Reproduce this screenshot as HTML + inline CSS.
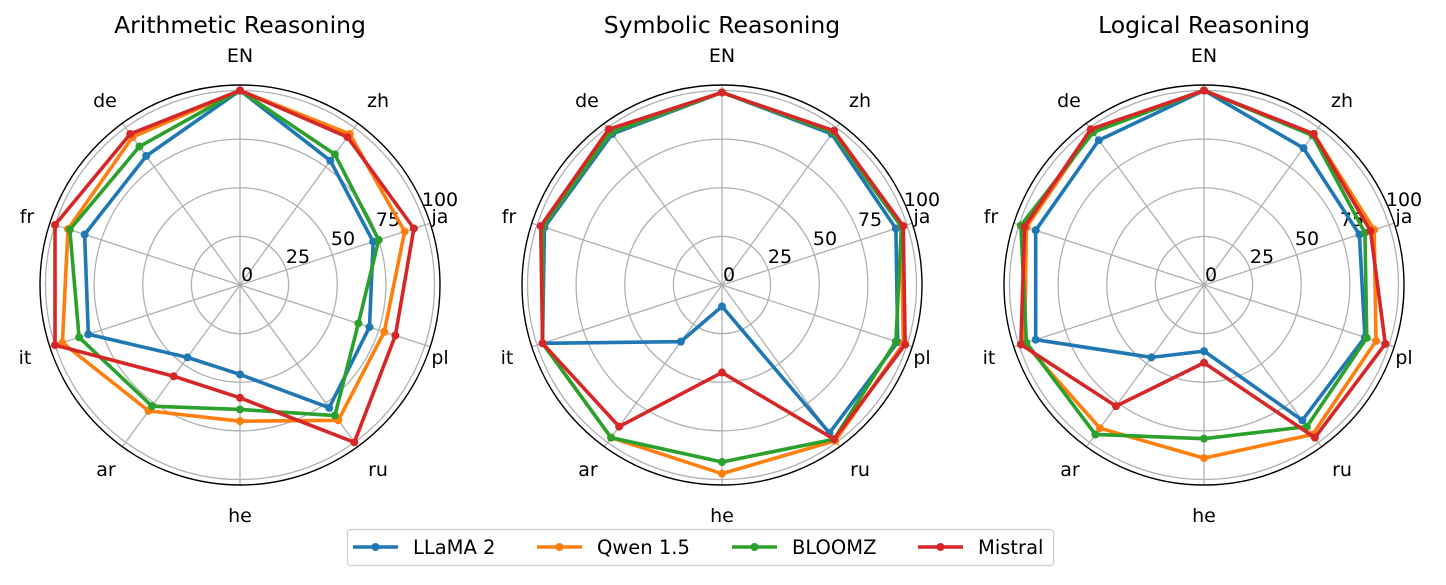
<!DOCTYPE html>
<html><head><meta charset="utf-8"><style>
body{margin:0;background:#fff;}
svg text{font-family:"DejaVu Sans","Liberation Sans",sans-serif;fill:#000;}
</style></head><body>
<svg id="chart" width="1446" height="580" viewBox="0 0 1446 580" xmlns="http://www.w3.org/2000/svg"></svg>
<script>
const categories = ["EN","zh","ja","pl","ru","he","ar","it","fr","de"];
const seriesNames = ["LLaMA 2","Qwen 1.5","BLOOMZ","Mistral"];
const tickValues = [0,25,50,75,100];
const tickLabels = ["0","25","50","75","100"];
const panelTitles = ["Arithmetic Reasoning","Symbolic Reasoning","Logical Reasoning"];
// Arithmetic
const arithLlama   = [100,79,72,70,78,46,46,82,84,82];
const arithQwen    = [100,96,89,78,86,70,80,96,93,94];
const arithBloomz  = [100,83,75,64,83,64,77,87,92,88];
const arithMistral = [100,94,94,84,100,58,58,100,100,96];
// Symbolic
const symLlama   = [99,96,94,95,94,11,36,97,96,96];
const symQwen    = [99,97,97,98,99,97,97,97,97,97];
const symBloomz  = [99,97,97,94,98,91,97,97,97,97];
const symMistral = [99,98,98,99,98,45,90,97,98,99];
// Logical
const logLlama   = [100,87,84,87,86,34,46,91,91,92];
const logQwen    = [100,96,92,93,95,89,91,97,96,98];
const logBloomz  = [100,95,87,88,90,79,95,96,99,97];
const logMistral = [100,96,90,98,97,40,77,99,97,99];

const panelData = [
  [arithLlama,arithQwen,arithBloomz,arithMistral],
  [symLlama,symQwen,symBloomz,symMistral],
  [logLlama,logQwen,logBloomz,logMistral]
];
const colors = ["#1f77b4","#ff7f0e","#2ca02c","#d62728"];
const centersX = [240,722,1204];
const CY = 285, SCALE = 1.945, RSPINE = 200;
const svg = document.getElementById('chart');
const NS = "http://www.w3.org/2000/svg";
function mk(tag, attrs, parent){
  const e = document.createElementNS(NS, tag);
  for (const k in attrs) e.setAttribute(k, attrs[k]);
  (parent||svg).appendChild(e); return e;
}
function ang(i){ return i*2*Math.PI/categories.length; }
function pt(cx, i, v){ const a=ang(i), r=v*SCALE; return [cx + r*Math.sin(a), CY - r*Math.cos(a)]; }
const labelOff = [[0,-230],[138,-185],[200,-69],[200,72],[138,184],[0,230],[-134,184],[-215,72],[-213,-69],[-135,-185]];
const tickOff = [[7,-11],[58,-29],[103,-47],[148,-66],[200,-86]];

panelTitles.forEach((title, p) => {
  const cx = centersX[p];
  const g = mk('g', {});
  
  
  const t = mk('text', {x:cx, y:33, 'font-size':23.5, 'text-anchor':'middle'}, g);
  t.textContent = title;
  
  
  tickValues.forEach(v => {
    if (v === 0) return;
    const c = mk('circle', {cx:cx, cy:CY, r:v*SCALE, fill:'none', stroke:'#b0b0b0', 'stroke-width':1.3}, g);
    
    
  });
  categories.forEach((c, i) => {
    const [x,y] = pt(cx, i, RSPINE/SCALE);
    const l = mk('line', {x1:cx, y1:CY, x2:x, y2:y, stroke:'#b0b0b0', 'stroke-width':1.3}, g);
    
    
    const lt = mk('text', {x:cx+labelOff[i][0], y:CY+labelOff[i][1]+7, 'font-size':19, 'text-anchor':'middle'}, g);
    lt.textContent = c;
    
    
  });
  const sp = mk('circle', {cx:cx, cy:CY, r:RSPINE, fill:'none', stroke:'#000', 'stroke-width':1.4}, g);
  
  
  tickLabels.forEach((lab, k) => {
    const tt = mk('text', {x:cx+tickOff[k][0], y:CY+tickOff[k][1]+7, 'font-size':19, 'text-anchor':'middle'}, g);
    tt.textContent = lab;
    
    
  });
  panelData[p].forEach((vals, s) => {
    const pts = vals.map((v,i) => pt(cx, i, v));
    const pl = mk('polygon', {points: pts.map(q=>q.join(',')).join(' '), fill:'none', stroke:colors[s], 'stroke-width':3.6, 'stroke-linejoin':'round'}, g);
    
    
    pts.forEach(q => {
      const m = mk('circle', {cx:q[0], cy:q[1], r:4, fill:colors[s]}, g);
      
      
    });
  });
});
const lg = mk('g', {});


mk('rect', {x:347.5, y:529.5, width:706, height:36, rx:3, fill:'#fff', stroke:'#d0d0d0', 'stroke-width':1.2}, lg);
const legLineX = [353,537,732,918];
seriesNames.forEach((n, s) => {
  const x = legLineX[s];
  const e = mk('g', {}, lg);
  
  
  mk('line', {x1:x, y1:547, x2:x+45, y2:547, stroke:colors[s], 'stroke-width':3.6}, e);
  mk('circle', {cx:x+22.5, cy:547, r:4, fill:colors[s]}, e);
  const tx = mk('text', {x:x+60, y:554, 'font-size':19.5}, e);
  tx.textContent = n;
});
</script>
</body></html>
